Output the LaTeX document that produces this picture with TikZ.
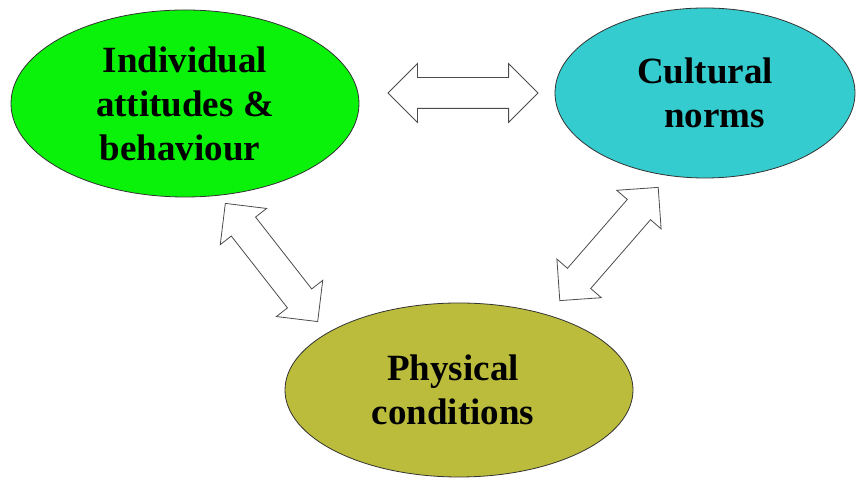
\documentclass[tikz,border=0pt]{standalone}
\usepackage{fontspec}
\setmainfont{Liberation Serif}
\usepackage{tikz}
\usetikzlibrary{arrows,%
                shapes,positioning}

\definecolor{indgreen}{RGB}{10,242,10}
\definecolor{cultcyan}{RGB}{52,204,206}
\definecolor{physolive}{RGB}{187,188,60}

\begin{document}
\begin{tikzpicture}[x=1pt,y=1pt,
  blob/.style={ellipse,draw=black!80,line width=0.8pt,align=center,inner sep=0pt,
    font=\fontsize{37}{44}\selectfont\bfseries},
  dblarrow/.style={double arrow,draw=black!70,fill=white,line width=0.8pt,
    inner xsep=0pt,inner ysep=15pt,minimum height=150pt,
    double arrow head extend=14pt}]
\useasboundingbox (0,0) rectangle (856,478);
\node[blob,fill=indgreen,minimum width=348pt,minimum height=187pt] (ind) at (185,374.5) {Individual\\attitudes \&\\behaviour\hspace*{10pt}};
\node[blob,fill=cultcyan,minimum width=300pt,minimum height=170pt] (cult) at (705,385) {Cultural\\\hspace*{19pt}norms};
\node[blob,fill=physolive,minimum width=348pt,minimum height=174pt] (phys) at (459,88) {Physical\hspace*{12pt}\\conditions\hspace*{12pt}};

\node[dblarrow] (a1) at (463,385) {};
\node[dblarrow,rotate=-52] (a2) at (271.5,215.5) {};
\node[dblarrow,rotate=49] (a3) at (609,234) {};
\end{tikzpicture}
\end{document}
